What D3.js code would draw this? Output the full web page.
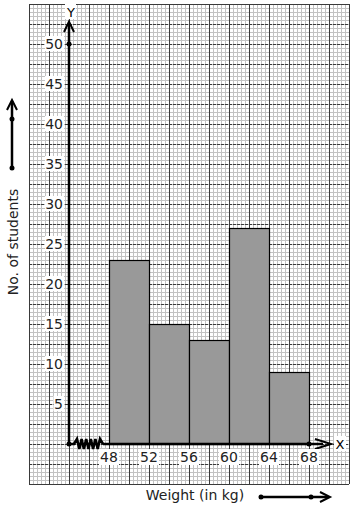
<!DOCTYPE html>
<html>
<head>
<meta charset="utf-8">
<script src="https://cdn.jsdelivr.net/npm/d3@7"></script>
<style>
  body { margin: 0; background: #fff; }
  svg text { font-family: "DejaVu Sans", sans-serif; }
</style>
</head>
<body>
<div id="chart"></div>
<script>
// class edges (kg) and number of students per class
const binEdges = [48, 52, 56, 60, 64, 68]
const students = [23, 15, 13, 27, 9]
const yTicks = [5, 10, 15, 20, 25, 30, 35, 40, 45, 50]
const xTitle = 'Weight (in kg)'
const yTitle = 'No. of students'

const width = 354
const height = 510
const svg = d3.select('#chart').append('svg').attr('width', width).attr('height', height)

// graph paper: 1 small square = 0.4 kg x 0.5 students
const x = d3.scaleLinear().domain([40, 72]).range([29, 349])
const y = d3.scaleLinear().domain([-5, 55]).range([484, 4])
const x0 = x(44) // origin, axis break before 48
const y0 = y(0)

const grid = svg.append('g')
// minor lines
d3.range(0, 81).forEach(i => {
  const v = 40 + i * 0.4
  grid.append('line').attr('x1', x(v)).attr('x2', x(v)).attr('y1', y(-5)).attr('y2', y(55))
    .attr('stroke', '#c2c2c2').attr('stroke-width', 1).attr('shape-rendering', 'crispEdges')
})
d3.range(0, 121).forEach(i => {
  const v = -5 + i * 0.5
  grid.append('line').attr('y1', y(v)).attr('y2', y(v)).attr('x1', x(40)).attr('x2', x(72))
    .attr('stroke', '#c2c2c2').attr('stroke-width', 1).attr('shape-rendering', 'crispEdges')
})
// major lines
d3.range(0, 17).forEach(i => {
  const v = 40 + i * 2
  grid.append('line').attr('x1', x(v)).attr('x2', x(v)).attr('y1', y(-5)).attr('y2', y(55))
    .attr('stroke', '#3a3a3a').attr('stroke-width', 1).attr('shape-rendering', 'crispEdges')
})
d3.range(0, 25).forEach(i => {
  const v = -5 + i * 2.5
  const edge = i === 0 || i === 24
  grid.append('line').attr('y1', y(v)).attr('y2', y(v)).attr('x1', x(40)).attr('x2', x(72))
    .attr('stroke', '#3a3a3a').attr('stroke-width', 1)
    .attr('stroke-dasharray', edge ? null : '3,1').attr('shape-rendering', 'crispEdges')
})

// bars
const bars = students.map((d, i) => ({ x0: binEdges[i], x1: binEdges[i + 1], v: d }))
svg.append('g').selectAll('rect').data(bars).enter().append('rect')
  .attr('x', d => x(d.x0) + 0.5)
  .attr('y', d => y(d.v) + 0.5)
  .attr('width', d => x(d.x1) - x(d.x0))
  .attr('height', d => y0 - y(d.v))
  .attr('fill', '#999999')
  .attr('stroke', '#000')
  .attr('stroke-width', 1.2)

// axes
const ax = svg.append('g').attr('stroke', '#000').attr('fill', 'none')
ax.append('line').attr('x1', x0).attr('x2', x0).attr('y1', y0).attr('y2', y(52.5)).attr('stroke-width', 2.5)
ax.append('path').attr('d', `M${x0 - 5},${y(51.5)} L${x0},${y(52.8)} L${x0 + 5},${y(51.5)}`).attr('stroke-width', 2)
ax.append('line').attr('x1', x(47.4)).attr('x2', x(69.4)).attr('y1', y0).attr('y2', y0).attr('stroke-width', 2.5)
ax.append('line').attr('x1', x0).attr('x2', x(44.6)).attr('y1', y0).attr('y2', y0).attr('stroke-width', 2.5)
ax.append('path').attr('d', `M${x(68.6)},${y0 - 5} L${x(70.2)},${y0} L${x(68.6)},${y0 + 5}`).attr('stroke-width', 2)
// axis break zigzag
let zz = `M${x(44.5)},${y0}`
d3.range(0, 11).forEach(i => {
  zz += ` L${x(44.8) + i * 2.3},${y0 + (i % 2 === 0 ? -5 : 5)}`
})
zz += ` L${x(47.4)},${y0}`
ax.append('path').attr('d', zz).attr('stroke-width', 2.6)

// dots
const dots = [[x0, y0], [x0, y(50)], [x(68), y0]]
svg.append('g').selectAll('circle').data(dots).enter().append('circle')
  .attr('cx', d => d[0]).attr('cy', d => d[1]).attr('r', 2.5).attr('fill', '#000')

// y tick labels with white background
const yl = svg.append('g')
yTicks.forEach(t => {
  const txt = String(t)
  const w = txt.length * 8.5
  yl.append('rect').attr('x', x0 - 7 - w).attr('y', y(t) - 8).attr('width', w + 2).attr('height', 15).attr('fill', '#fff')
  yl.append('text').attr('x', x0 - 6).attr('y', y(t) + 5).attr('text-anchor', 'end')
    .attr('font-size', 14).attr('fill', '#222').text(txt)
})
// x tick labels
const xl = svg.append('g')
binEdges.forEach(t => {
  xl.append('rect').attr('x', x(t) - 10).attr('y', y0 + 5).attr('width', 20).attr('height', 16).attr('fill', '#fff')
  xl.append('text').attr('x', x(t)).attr('y', y0 + 18).attr('text-anchor', 'middle')
    .attr('font-size', 14).attr('fill', '#222').text(t)
})

// axis letters
svg.append('rect').attr('x', x0 - 4).attr('y', 4).attr('width', 11).attr('height', 15).attr('fill', '#fff')
svg.append('text').attr('x', x0 + 2).attr('y', 17).attr('text-anchor', 'middle').attr('font-size', 13).text('Y')
svg.append('rect').attr('x', x(71) - 5).attr('y', y0 - 8).attr('width', 12).attr('height', 15).attr('fill', '#fff')
svg.append('text').attr('x', x(71) + 1).attr('y', y0 + 5).attr('text-anchor', 'middle').attr('font-size', 13).text('X')

// titles
svg.append('text').attr('x', 195).attr('y', 500).attr('text-anchor', 'middle').attr('font-size', 14)
  .attr('fill', '#222').text(xTitle)
svg.append('text').attr('transform', 'translate(18,242) rotate(-90)').attr('text-anchor', 'middle')
  .attr('font-size', 14).attr('fill', '#222').text(yTitle)

// direction arrows beside titles
const da = svg.append('g').attr('stroke', '#000').attr('fill', 'none').attr('stroke-width', 2.5)
da.append('line').attr('x1', 12).attr('x2', 12).attr('y1', 168).attr('y2', 101)
da.append('path').attr('d', 'M7,110 L12,100 L17,110').attr('stroke-width', 2)
da.append('line').attr('x1', 261).attr('x2', 328).attr('y1', 497).attr('y2', 497)
da.append('path').attr('d', 'M320,492 L330,497 L320,502').attr('stroke-width', 2)
svg.append('g').selectAll('circle').data([[12, 119], [12, 168], [261, 497], [311, 497]]).enter().append('circle')
  .attr('cx', d => d[0]).attr('cy', d => d[1]).attr('r', 2.5).attr('fill', '#000')
</script>
</body>
</html>
